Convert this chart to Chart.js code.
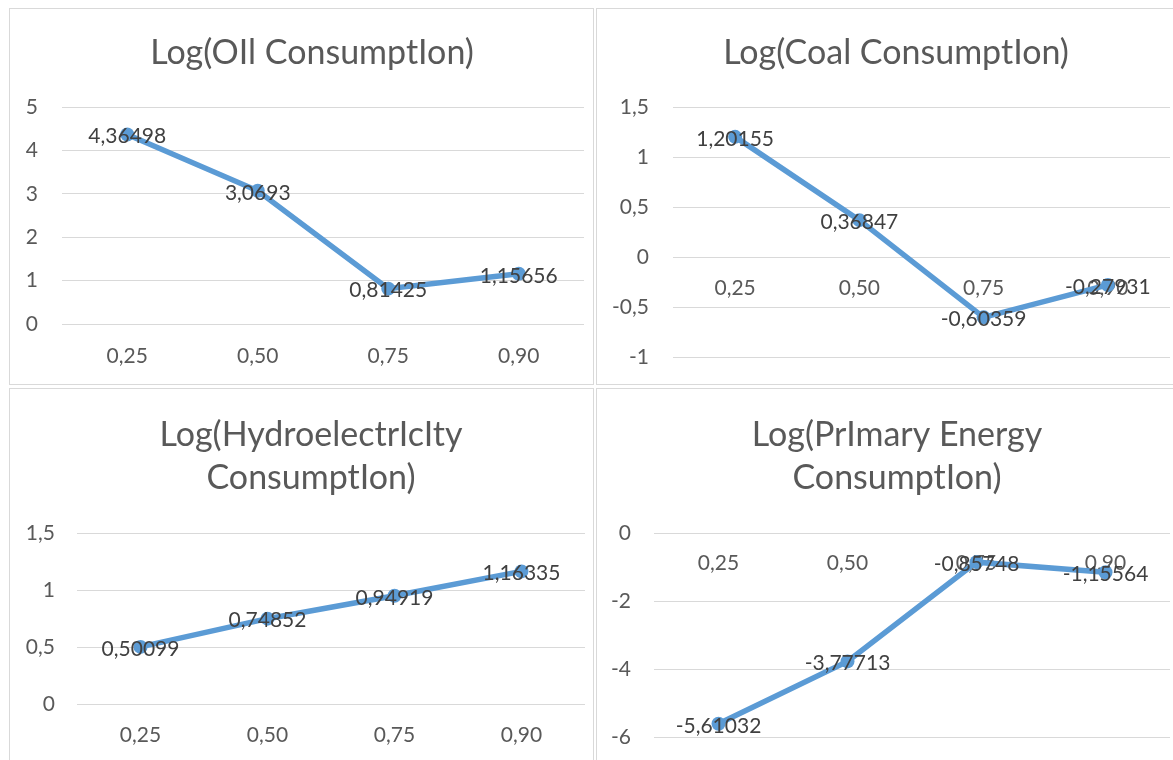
<!DOCTYPE html>
<html><head><meta charset="utf-8">
<script src="https://cdn.jsdelivr.net/npm/chart.js@4/dist/chart.umd.min.js"></script>
<style>
html,body{margin:0;padding:0;background:#fff;}
body{width:1173px;height:760px;overflow:hidden;position:relative;}
.panel{position:absolute;border:1px solid #D9D9D9;background:#fff;}
.panel canvas{display:block;}
</style></head><body>
<div class="panel" style="left:9px;top:8px;"><canvas id="cA" width="583" height="375"></canvas></div>
<div class="panel" style="left:596px;top:8px;"><canvas id="cB" width="598" height="375"></canvas></div>
<div class="panel" style="left:9px;top:388px;"><canvas id="cC" width="583" height="398"></canvas></div>
<div class="panel" style="left:596px;top:388px;"><canvas id="cD" width="598" height="398"></canvas></div>
<script>
const categories = ['0,25', '0,50', '0,75', '0,90'];

const oilTitle = 'Log(OIl ConsumptIon)';
const oilValues = [4.36498, 3.0693, 0.81425, 1.15656];
const oilTicks = [0, 1, 2, 3, 4, 5];

const coalTitle = 'Log(Coal ConsumptIon)';
const coalValues = [1.20155, 0.36847, -0.60359, -0.27931];
const coalTicks = [-1, -0.5, 0, 0.5, 1, 1.5];

const hydroTitle = ['Log(HydroelectrIcIty', 'ConsumptIon)'];
const hydroValues = [0.50099, 0.74852, 0.94919, 1.16335];
const hydroTicks = [0, 0.5, 1, 1.5];

const primaryTitle = ['Log(PrImary Energy', 'ConsumptIon)'];
const primaryValues = [-5.61032, -3.77713, -0.85748, -1.15564];
const primaryTicks = [-6, -4, -2, 0];

const fmt = v => String(v).replace('.', ',');
const FONT = 'Lato, "Open Sans", sans-serif';

const valueLabels = {
  id: 'valueLabels',
  afterDatasetsDraw(chart) {
    const ctx = chart.ctx;
    ctx.save();
    ctx.font = '21px ' + FONT;
    ctx.fillStyle = '#404040';
    ctx.textAlign = 'center';
    ctx.textBaseline = 'middle';
    chart.data.datasets.forEach((ds, i) => {
      chart.getDatasetMeta(i).data.forEach((pt, j) => {
        ctx.fillText(fmt(ds.data[j]), pt.x, pt.y + 2);
      });
    });
    ctx.restore();
  }
};

function makeChart(id, title, values, ticks, L) {
  new Chart(document.getElementById(id), {
    type: 'line',
    data: {
      labels: categories,
      datasets: [{
        data: values,
        borderColor: '#5B9BD5',
        backgroundColor: '#5B9BD5',
        borderWidth: 5.5,
        pointRadius: 7,
        pointBorderWidth: 0,
        pointBackgroundColor: '#5B9BD5',
        tension: 0,
        clip: false
      }]
    },
    options: {
      responsive: false,
      animation: false,
      events: [],
      layout: { padding: { left: L.pl, right: L.pr, top: 0, bottom: L.pb } },
      plugins: {
        legend: { display: false },
        tooltip: { enabled: false },
        title: {
          display: true,
          text: title,
          color: '#595959',
          font: { family: FONT, size: 34, weight: 400, lineHeight: 43 / 34 },
          padding: { top: L.tt, bottom: L.tb }
        }
      },
      scales: {
        x: {
          type: 'category',
          offset: true,
          position: { y: 0 },
          grid: { display: false, drawTicks: false },
          border: { display: false },
          ticks: { color: '#595959', font: { family: FONT, size: 21 }, padding: L.xp, maxRotation: 0, autoSkip: false }
        },
        y: {
          min: ticks[0],
          max: ticks[ticks.length - 1],
          afterBuildTicks: s => { s.ticks = ticks.map(v => ({ value: v })); },
          afterFit: s => {
            s.width = L.yw;
            s.paddingTop = 0;
            s.paddingBottom = 0;
            s._computeLabelArea = () => undefined;
          },
          grid: { color: '#D9D9D9', lineWidth: 1, drawTicks: false },
          border: { display: false },
          ticks: { color: '#595959', font: { family: FONT, size: 21 }, padding: L.yp, callback: v => fmt(v) }
        }
      }
    },
    plugins: [valueLabels]
  });
}

makeChart('cA', oilTitle, oilValues, oilTicks, { pl: 30, pr: 9, pb: 60, yw: 22, yp: 24, xp: 20, tt: 22.5, tb: 32.5 });
makeChart('cB', coalTitle, coalValues, coalTicks, { pl: 25, pr: 25, pb: 27, yw: 51, yp: 24, xp: 19, tt: 22.5, tb: 32.5 });
makeChart('cC', hydroTitle, hydroValues, hydroTicks, { pl: 27, pr: 8, pb: 83, yw: 40, yp: 22, xp: 19, tt: 24.5, tb: 33.5 });
makeChart('cD', primaryTitle, primaryValues, primaryTicks, { pl: 27, pr: 25, pb: 50, yw: 30, yp: 23, xp: 18, tt: 24.5, tb: 33.5 });
</script>
</body></html>
